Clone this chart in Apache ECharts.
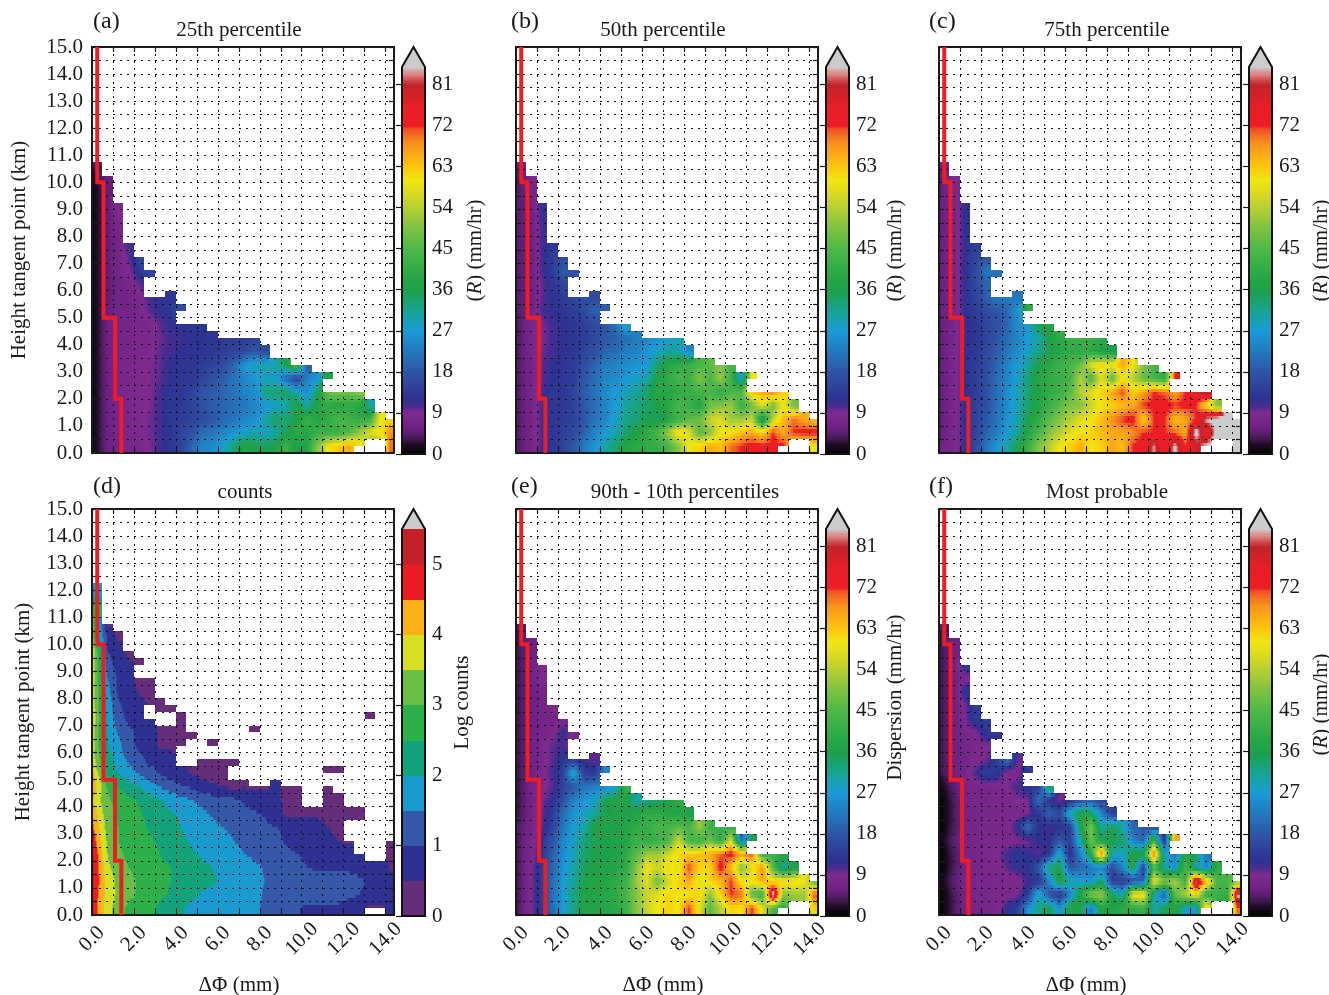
<!DOCTYPE html>
<html><head><meta charset="utf-8">
<style>html,body{margin:0;padding:0;background:#fff}#c{width:1329px;height:995px}</style>
<script src="https://cdn.jsdelivr.net/npm/echarts@6/dist/echarts.min.js"></script>
</head><body><div id="c"></div>
<script>
const _ = null;
// Rows run bottom-up, each 0.5 km tall; columns are 0.5 mm wide, starting at 0.
const p25Rows = [
[2,6,7,7.5,8,9,11,13,15,20,24,25,28,33,38,36,35,37,42,36,38,50,60,63,66,62,50,50,70],
[2,6,7.5,8,8.5,9.5,11,13,15,17,21,22,24,26,28,30,28,30,35,40,38,42,42,42,45,52,58,60,68],
[2,6,7.5,8,8.5,9.5,11,13,14,15,16,18,20,22,24,25,30,35,33,36,42,38,40,44,43,40,42,60,62],
[2,6,7.5,8,8.5,9,11,13,13,15,17,19,20,21,22,24,26,28,30,37,30,38,40,38,40,38,30],
[2,6,7.5,8,8.5,9,11,13,13,15,18,19,20,22,24,25,33,34,35,30,25,34,48,50,48,52],
[2,6,7.5,8,8.5,9,10,12,12.5,13,15,17,19,22,24,26,28,28,20,14,24,26,38],
[2,6,7.5,8,8.5,9,10,12,12.5,13,14,15,16,20,26,30,30,30,36,46,18],
[2,6,7,7.5,8,8.5,10,11,12,12,12.5,13,14,15,16,18,16],
[2,6,7,7.5,8,8.5,9.5,11,11,12,12,13,13,14,14,15],
[2,6,7,7,7.5,8,10,12,13,13,13],
[2,5.5,7,7,8,10,12,13,17],
[2,5,6.5,7,8,11,12,13],
[2,5,6.5,7.5,10,12],
[2,5,7,8.5,13,16],
[2,5,7,10,16],
[2,5,7,11],
[2,5,7.5],
[2,5,8.5],
[2,5,9.5],
[2,5],
[3,5.5],
[4]];
const p50Rows = [
[5,7,11,13,15,18,23,26,30,34,38,39,40,41,44,50,60,62,66,64,70,72,74,73,73,73,60,60,60],
[5,7,11,13,14,16,19,24,27,30,34,37,40,44,52,62,58,46,50,60,60,64,66,62,72,66,72,73,73],
[5,7,11,13,14,15,18,22,24,28,32,33,36,34,38,42,46,48,56,58,52,52,55,32,55,64,70,66,64],
[5,7,11,13,13,15,18,21,24,27,31,33,34,36,39,44,42,38,48,50,52,42,48,58,48,60,48],
[5,7,11,13,13,15,19,22,25,27,29,31,34,39,38,40,42,43,44,40,44,46,64,66,70,62],
[5,7,10,12,13,14,18,21,24,25,27,28,30,37,40,44,42,50,44,52,42,26,60],
[5,7,10,12,13,14,17,20,23,24,25,26,27,34,38,40,42,44,46,50,44],
[5,7.5,9.5,11,12,13,15,17,20,21,23,24,26,28,31,30,24],
[5,7.5,9,11,12,13,14,16,18,19,21,23,24,26,27,30],
[5,8,9,11,12,13,14,16,18,22,30],
[5,6,11,12,13,14,16,20,19],
[5,6,10,12,14,16,17,16],
[5,6,10,13,15,16],
[5,6,11,14,19,18],
[5,6,11,14,16],
[5,6,11,13],
[5,6,11],
[5,6,11.5],
[5,6.5,12],
[5,7],
[5,8],
[6]];
const p75Rows = [
[7,8,12,16,22,26,30,36,42,50,54,60,62,66,60,62,66,64,72,74,84,72,86,72,78,86,90,90,90],
[6,8,12,15,19,23,27,31,38,44,50,54,58,60,62,64,66,66,68,72,72,72,70,66,88,72,88,88,90],
[6,8,12,15,18,22,26,30,36,40,46,50,54,58,60,64,68,72,74,62,72,72,64,66,72,85,88,88,90],
[6,8,12,15,17,21,25,29,34,38,42,46,50,50,56,60,62,64,66,72,73,74,72,73,72,60,50],
[6,8,12,14,17,21,25,29,34,37,40,42,46,54,58,62,66,72,62,66,72,70,66,72,78,84],
[6,8,12,14,17,21,24,28,33,38,40,42,43,54,44,58,46,60,54,48,44,40,72],
[6,8,12,14,16,20,24,27,31,36,39,42,44,48,58,62,60,66,60,50,44],
[6,8,12,13,16,19,22,25,29,32,35,38,40,40,40,36,36],
[6,8,11,13,15,18,21,24,27,30,36,40,42,42,42,40],
[6,8,11,13,15,17,20,25,27,36,38],
[6,7,12,14,16,18,20,26,40],
[6,7,12,15,19,23,23,22],
[6,7,12,16,20,20],
[6,7,12,16,22,22],
[6,7,12,15,17],
[6,7,12,14],
[6,7,12],
[6,7,12],
[6,7,12],
[6,8],
[6,9],
[6]];
const countRows = [
[4.5,3.7,3.2,2.9,2.8,2.6,2.4,2.2,2.05,1.9,1.85,1.8,1.75,1.7,1.65,1.55,1.45,1.3,1.2,1.05,.9,.9,.95,.9,.7,.6,.4,.4,.7],
[4.6,3.8,3.4,3.1,2.95,2.75,2.6,2.45,2.25,2.1,1.95,1.85,1.8,1.75,1.7,1.6,1.45,1.35,1.3,1.25,1.2,1.2,1.25,1.2,1.15,1,.8,.75,.7],
[4.7,3.8,3.35,3.1,2.95,2.8,2.65,2.5,2.4,2.3,2.2,2.05,1.95,1.85,1.75,1.65,1.5,1.4,1.3,1.25,1.2,1.2,1.2,1.2,1.25,1.1,.9,.7,.7],
[4.7,3.6,3.2,3,2.9,2.75,2.6,2.5,2.35,2.2,2.1,2,1.9,1.8,1.7,1.6,1.45,1.3,1.2,1.1,1,.95,.9,.9,.85,.8,.7,.7,.45],
[4.6,3.5,3.1,2.9,2.8,2.6,2.5,2.35,2.2,2.05,1.95,1.85,1.75,1.65,1.5,1.4,1.3,1.2,1.1,1,.95,.85,.8,.75,.7,.6,_,_,.45],
[4.4,3.4,3,2.85,2.7,2.55,2.45,2.25,2.1,1.95,1.85,1.75,1.65,1.5,1.4,1.3,1.2,1.1,.95,.85,.8,.7,.65,.5,.4,_,_,_,.4],
[4.2,3.3,3,2.8,2.6,2.45,2.3,2.15,2,1.85,1.75,1.6,1.5,1.4,1.3,1.2,1.1,1,.95,.75,.7,.6,.5,.35],
[4,3.2,2.95,2.7,2.55,2.4,2.2,2.05,1.95,1.8,1.6,1.45,1.3,1.2,1.1,1.05,.95,.7,.4,.45,.45,.45,.4,.4,.35,.3],
[3.7,3.1,2.8,2.6,2.45,2.2,2.05,1.8,1.7,1.5,1.35,1.25,1.15,1.1,.95,.8,.7,.55,.45,.4,_,_,.4,.35],
[4,2.95,2.5,2.2,2,1.75,1.45,1.25,1.05,.9,.7,.55,.5,.35,.45,.4,.4,.6,.35,.35,_,_,.3,.35],
[3.6,2.4,2,1.7,1.45,1.15,.95,.75,.6,.45,.35,.3,.3,.3,_,_,_,_,_,_,_,_,.3,.3],
[3.3,2.3,1.75,1.4,1.15,.85,.95,.7,.6,.5,.3,.3,.3,.3],
[3.2,2,1.7,1.15,.9,.75,.4,.4,.3,.3,_,.3],
[3.2,2,1.45,1.1,.9,.8,.4,.4,.4,.3,_,_,_,_,_,.3],
[3.3,1.9,1.2,.9,.8,.7,.4,.4,.4,_,_,_,_,_,_,_,_,_,_,_,_,_,_,_,_,_,.3],
[3.2,1.8,1.1,.8,.7,.45,.3,.3],
[3.2,1.7,.9,.7,.45,.35],
[3.1,1.5,.9,.7,.3,.3],
[3.1,1.2,.8,.7,.3],
[3,1,.75,.3],
[2.5,.9,.4],
[2.3,.4],
[2.8],
[2],
[1.5]];
const dispRows = [
[5,9,14,21,27,32,37,38,38,39,42,50,56,60,62,60,72,58,46,54,62,60,72,58,44,40,50,50,62],
[5,9,14,21,27,32,37,38,38,40,44,50,56,58,62,60,60,62,50,62,72,70,46,42,90,50,52,52,72],
[5,9,14,21,27,31,36,38,38,40,42,52,58,48,56,62,66,58,62,64,72,60,60,66,60,62,62,60,46],
[5,9,14,20,26,30,35,36,37,38,40,50,60,56,62,58,72,62,62,74,64,50,58,68,46,30,36],
[5,8,13,19,25,29,34,36,36,37,40,46,52,52,56,62,62,64,66,70,74,68,72,40,42,38],
[5,8,12,18,24,28,33,35,36,37,38,42,40,42,44,56,44,42,48,40,58,20,36],
[5,7,10,15,22,27,30,37,37,36,38,40,41,44,44,46,44,52,42,42,40],
[4,7,9.5,14,21,26,28,31,36,37,36,38,40,40,38,38,36],
[4,7,9,12,17,24,26,28,35,38,37,30,32,34,36,40],
[4,7,8,10,15,18,22,23,24,27,42],
[4,6,8,11,15,30,14,13,24],
[4,6,8,10,13,13,11,10],
[4,6,8,10,11,8],
[4,6,7,8,12,8],
[4,6,7,7,8],
[4,6,7,8],
[4,6,7],
[4,6,9],
[4,6,9],
[4,6],
[4,6],
[4]];
const modeRows = [
[1,4,7,7.5,7.5,8,12,14,26,32,36,26,38,36,22,38,36,40,40,42,30,36,38,28,26,66,40,40,70],
[1,4,7,7.5,7.5,8,8,9,14,30,18,12,24,38,50,52,36,30,60,62,30,18,46,54,60,40,42,40,86],
[2,5,7,7.5,7.5,8,8,8,11,13,24,38,30,28,26,34,14,14,16,20,60,50,54,42,86,66,44,44,50],
[1,4,7,7.5,8,8,10,12,12,18,34,36,18,20,22,24,16,24,38,14,44,30,26,44,30,24,40],
[1,4,7,7.5,8,9,11,13,12,10,12,30,11,24,38,72,30,28,38,38,72,30,22,38,36,22],
[2,5,7,7.5,8,8,8,9,9,12,12,18,15,30,48,36,36,34,24,20,44,12,66],
[1,4,7,7.5,8,8,8,12,22,12,11,12,14,36,50,30,36,30,20,18,15],
[1,4,7,7.5,7.5,8,8,8,9,13,20,16,30,38,36,24,14],
[1,4,7,7.5,7.5,8,8,9,9,22,12,9,11,16,18,14],
[2,5,7,7.5,7.5,8,9,11,13,13,38],
[4,6,7.5,11,15,13,8,8,14],
[4,6,7,8,9,14,22,10],
[4,6,7,8,9,8],
[4,6,7.5,9,13,14],
[4,6,9,14,14],
[4,6,9,14],
[4,6,13],
[4,6,8],
[4,6,14],
[4,6],
[4,6],
[4]];
// Upper edge of the sampled area per column, and unsampled gaps [column, from km, to km].
const topEdge = [10.75,10.25,9.25,7.75,7.25,6.75,5.75,6,5.5,4.75,4.75,4.5,4.25,4.25,4.25,4.25,4,3.5,3.5,3.25,3.25,3,3,2.25,2.25,2.25,2,1.5,1.25];
const gaps = [[5,5.75,6.5],[8,4.75,5.25],[22,2.25,2.75],[25,0,.25],[26,0,.5],[27,0,.5]];
const countTopEdge = [12.25,10.75,10.5,9.75,9.75,8.75,8,7.75,7.5,6.75,5.75,6.5,5.75,5.75,5,7,4.75,5,4.75,4.75,4,4,5.5,5.5,4,4,7.5,2,2.75];
const countGaps = [[4,8.75,9.25],[5,7.25,7.75],[6,7,7.5],[7,7,7.5],[8,5.5,6.25],[9,5.5,6.5],[11,5.75,6.25],[13,5,5.5],[15,4.75,6.75],[22,4.75,5.25],[23,4.5,5.25],[24,2.75,3.5],[25,2.25,3.5],[26,2,7.25],[26,0,.25],[27,0,.25]];
// Red reference line.
const refX = [0.25,0.25,0.55,0.55,1.1,1.1,1.4,1.4];
const refY = [15,10,10,5,5,2,2,0];
// Colour scales.
const rateStops = [[0,'#000000'],[2,'#1c0c22'],[4,'#4d1c60'],[6,'#6e2284'],[9,'#7f2a8e'],[10.5,'#4c2b90'],[12,'#2e3190'],[18,'#2f55a5'],[24,'#1f85c6'],[27,'#1a9bd7'],[31,'#15a59a'],[36,'#1ea04b'],[38,'#22a547'],[45,'#4db848'],[50,'#82c341'],[54,'#b5cf33'],[58,'#e2dc1c'],[60,'#eee711'],[63,'#fdc70d'],[68,'#f7941d'],[71,'#f15a24'],[72,'#ee1c25'],[76,'#e81e26'],[81,'#c1232b'],[82.5,'#d86060'],[84,'#d8a0a0'],[85,'#cccccc']];
const countColors = ['#662d7a','#2e3192','#3558a8','#1a9bd0','#12a37c','#2bb04a','#6abd45','#d7df23','#fbb016','#ed1c24','#c4212a'];
const rateTicks = [0,9,18,27,36,45,54,63,72,81];
const countTicks = [0,1,2,3,4,5];
const yTickStep = 0.5, xTickStep = 1, xMax = 14.4, yMax = 15;

function hex(c){return [1,3,5].map(i=>parseInt(c.substr(i,2),16));}
function rateColor(v){
  if(v<=0) return rateStops[0][1];
  for(let i=1;i<rateStops.length;i++){
    if(v<=rateStops[i][0]){
      const [a,ca]=rateStops[i-1],[b,cb]=rateStops[i],t=(v-a)/(b-a),A=hex(ca),B=hex(cb);
      return 'rgb('+A.map((x,k)=>Math.round(x+(B[k]-x)*t)).join(',')+')';
    }
  }
  return '#cccccc';
}
function countColor(v){return countColors[Math.max(0,Math.min(10,Math.floor(v/0.5)))];}

const F='Liberation Serif', FS=21, INK='#1a1a1a';
const panels = [
 {tag:'(a)',tagX:93,tagY:10,title:'25th percentile',titleX:239,titleY:20,left:92,top:47,h:406,cbLeft:402,rows:p25Rows,name:'({i|R}) (mm/hr)',nameGap:40,yName:'Height tangent point (km)',yGap:62,xName:false,lift:0},
 {tag:'(b)',tagX:511,tagY:10,title:'50th percentile',titleX:663,titleY:20,left:516,top:47,h:406,cbLeft:826,rows:p50Rows,name:'({i|R}) (mm/hr)',nameGap:36,lift:0},
 {tag:'(c)',tagX:929,tagY:10,title:'75th percentile',titleX:1107,titleY:20,left:939,top:47,h:406,cbLeft:1249,rows:p75Rows,name:'({i|R}) (mm/hr)',nameGap:39,lift:0},
 {tag:'(d)',tagX:93,tagY:475,title:'counts',titleX:245,titleY:482,left:92,top:509,h:406,cbLeft:402,rows:countRows,name:'Log counts',nameGap:27,count:true,yName:'Height tangent point (km)',yGap:58,xName:true,lift:10},
 {tag:'(e)',tagX:511,tagY:475,title:'90th - 10th percentiles',titleX:685,titleY:482,left:516,top:509,h:406,cbLeft:826,rows:dispRows,name:'Dispersion (mm/hr)',nameGap:36,xName:true,lift:15},
 {tag:'(f)',tagX:929,tagY:475,title:'Most probable',titleX:1107,titleY:482,left:939,top:509,h:406,cbLeft:1249,rows:modeRows,name:'({i|R}) (mm/hr)',nameGap:39,xName:true,lift:8}
];
const W=302, CBW=23, SUB=4;

const grid=[],xAxis=[],yAxis=[],series=[],title=[];
const axisLine={show:true,onZero:false,lineStyle:{color:INK,width:2}};
const tick=(len)=>({show:true,inside:true,length:len,lineStyle:{color:INK,width:1.2}});
const dotted={show:true,lineStyle:{color:'#111',width:1,type:[2,5]}};
const label={fontFamily:F,fontSize:FS,color:INK};

function cellRenderer(p){
  const rows=p.rows, color=p.count?countColor:rateColor;
  const tops=p.count?countTopEdge:topEdge, holes=p.count?countGaps:gaps;
  const at=(r,c)=>{const R=rows[r];if(!R)return null;const v=R[c];return v===undefined?null:v;};
  const covered=(c,y)=>{
    if(y+0.25>tops[c]+1e-6) return false;
    return !holes.some(h=>h[0]===c&&y>=h[1]-1e-6&&y+0.25<=h[2]+1e-6);
  };
  return function(params,api){
    const c=api.value(3), r=api.value(4);
    const kids=[];
    const x0=c*0.5, x1=Math.min(x0+0.5,xMax), dy=0.5/SUB;
    for(let q=0;q<SUB;q++){
      const y0=r*0.5+q*dy;
      const quarter=r*0.5+Math.floor(q*dy/0.25)*0.25;
      if(!covered(c,quarter)) continue;
      const f=(q+0.5)/SUB-0.5;
      const rowV=(cc)=>{
        const own=at(r,cc); if(own===null) return null;
        const o=f<0?at(r-1,cc):at(r+1,cc);
        return o===null?own:own+(o-own)*Math.abs(f);
      };
      const mid=rowV(c);
      let L=rowV(c-1), Rr=rowV(c+1);
      if(L===null) L=(c===0&&Rr!==null)?Math.max(0,2*mid-Rr):mid;
      if(Rr===null) Rr=mid;
      const stops=[];
      for(let i=0;i<=10;i++){
        const t=i/10-0.5, val=t<0?mid+(L-mid)*(-t):mid+(Rr-mid)*t;
        stops.push({offset:i/10,color:color(val)});
      }
      const a=api.coord([x0,y0+dy]), b=api.coord([x1,y0]);
      const px=Math.round(a[0]), py=Math.round(a[1]);
      kids.push({type:'rect',shape:{x:px,y:py,width:Math.round(b[0])-px,height:Math.round(b[1])-py},
        style:{fill:new echarts.graphic.LinearGradient(0,0,1,0,stops)}});
    }
    return {type:'group',children:kids};
  };
}

panels.forEach((p,i)=>{
  title.push({text:p.tag,left:p.tagX,top:p.tagY,padding:0,textStyle:{fontFamily:F,fontSize:24,fontWeight:'normal',color:INK}});
  title.push({text:p.title,left:p.titleX,top:p.titleY,padding:0,textAlign:'center',textStyle:{fontFamily:F,fontSize:FS,fontWeight:'normal',color:INK}});
  grid.push({left:p.left,top:p.top,width:W,height:p.h,containLabel:false,outerBoundsMode:'none'});
});
panels.forEach((p,i)=>{
  grid.push({left:p.cbLeft,top:p.top,width:CBW,height:p.h+1,containLabel:false,outerBoundsMode:'none'});
});
panels.forEach((p,i)=>{
  const base={type:'value',gridIndex:i,min:0,z:5};
  const xb={...base,max:xMax,interval:xTickStep};
  const yb={...base,max:yMax,interval:yTickStep};
  const xi=xAxis.length, yi=yAxis.length;
  xAxis.push({...xb,position:'bottom',axisLine,axisTick:tick(5),splitLine:dotted,
    name:p.xName?'\u0394\u03A6 (mm)':'',nameLocation:'middle',nameGap:60,nameTextStyle:{...label,padding:[0,8,0,0]},
    axisLabel:{show:!!p.xName,...label,rotate:45,align:'center',verticalAlign:'middle',margin:24,
      formatter:v=>(v%2===0?v.toFixed(1):'')}});
  xAxis.push({...xb,position:'top',axisLine,axisTick:tick(5),splitLine:{show:false},axisLabel:{show:false}});
  yAxis.push({...yb,position:'left',axisLine,axisTick:tick(5),splitLine:dotted,
    name:p.yName||'',nameLocation:'middle',nameGap:p.yGap||0,nameRotate:90,nameTextStyle:label,
    axisLabel:{show:!!p.yName,...label,margin:9,formatter:v=>(Number.isInteger(v)?v.toFixed(1):'')}});
  yAxis.push({...yb,position:'right',axisLine,axisTick:tick(5),splitLine:{show:false},axisLabel:{show:false}});
  const cells=[];
  p.rows.forEach((row,r)=>row.forEach((v,c)=>{if(v!==null)cells.push([c*0.5+0.25,r*0.5+0.25,v,c,r]);}));
  series.push({type:'custom',xAxisIndex:xi,yAxisIndex:yi,data:cells,encode:{x:0,y:1},silent:true,animation:false,z:2,renderItem:cellRenderer(p)});
  series.push({type:'line',xAxisIndex:xi,yAxisIndex:yi,data:refX.map((x,k)=>[x,refY[k]]),showSymbol:false,silent:true,animation:false,z:8,
    lineStyle:{color:'#ee1c25',width:4,join:'miter'}});
});
panels.forEach((p,i)=>{
  const g=6+i, top=p.count?5.5:84.8, cbMax=p.count?5.786:89.2, ticks=p.count?countTicks:rateTicks;
  const xi=xAxis.length, yi=yAxis.length;
  xAxis.push({type:'value',gridIndex:g,min:0,max:1,show:false});
  yAxis.push({type:'value',gridIndex:g,min:0,max:cbMax,position:'right',z:5,
    axisLine:{show:false},splitLine:{show:false},
    axisTick:{...tick(6),customValues:ticks},
    name:p.name,nameLocation:'middle',nameGap:p.nameGap,nameRotate:90,
    nameTextStyle:{...label,padding:[0,0,0,2*p.lift],rich:{i:{...label,fontStyle:'italic'}}},
    axisLabel:{...label,margin:7,customValues:ticks,formatter:v=>String(v)}});
  const step=p.count?0.5:0.25, levels=[];
  for(let v=0;v<top-1e-9;v+=step) levels.push(v);
  series.push({type:'custom',xAxisIndex:xi,yAxisIndex:yi,data:levels.map(v=>[0.5,v]),encode:{x:0,y:1},silent:true,animation:false,z:2,
    renderItem(params,api){
      const v=api.value(1), a=api.coord([0,Math.min(v+step,top)]), b=api.coord([1,v]);
      const y=Math.floor(a[1]);
      return {type:'rect',shape:{x:a[0],y,width:b[0]-a[0],height:Math.ceil(b[1])-y},
        style:{fill:p.count?countColor(v+0.01):rateColor(v+step/2)}};
    }});
  series.push({type:'custom',xAxisIndex:xi,yAxisIndex:yi,data:[[0.5,top]],encode:{x:0,y:1},silent:true,animation:false,z:3,
    renderItem(params,api){
      const P=(x,y)=>api.coord([x,y]);
      return {type:'group',children:[
        {type:'polygon',shape:{points:[P(0,top),P(1,top),P(0.5,cbMax)]},style:{fill:'#cccccc'}},
        {type:'polygon',shape:{points:[P(0,0),P(1,0),P(1,top),P(0.5,cbMax),P(0,top)]},style:{fill:'none',stroke:'#111',lineWidth:2}}
      ]};
    }});
});

const chart=echarts.init(document.getElementById('c'),null,{renderer:'canvas'});
chart.setOption({animation:false,backgroundColor:'#fff',title,grid,xAxis,yAxis,series});
</script></body></html>
